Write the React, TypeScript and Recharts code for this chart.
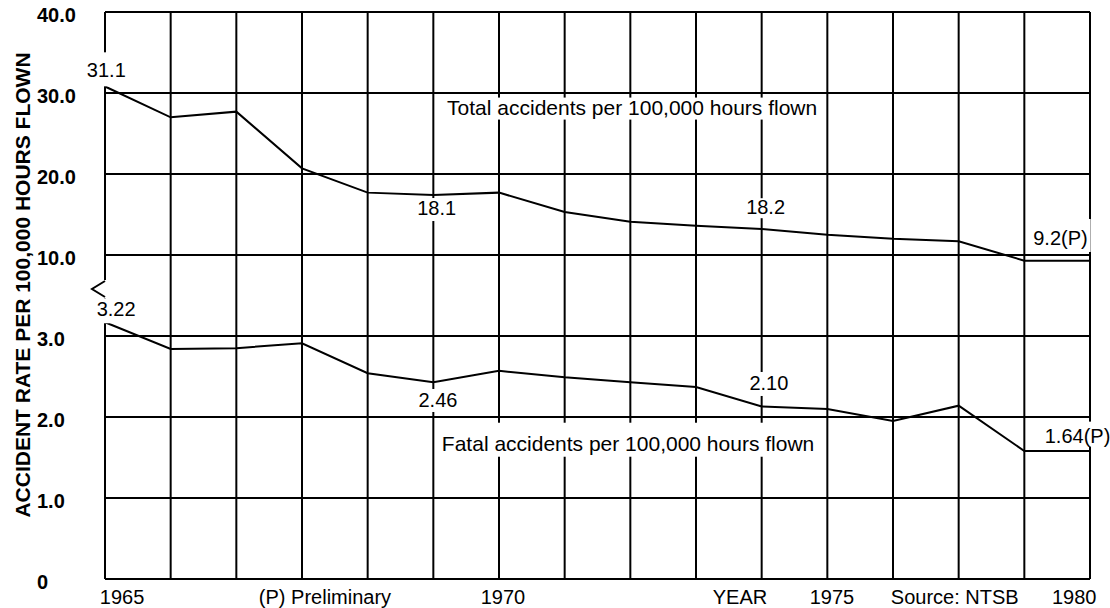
import React from 'react'
import { CartesianGrid, Line, LineChart, ReferenceDot, XAxis, YAxis } from 'recharts'

const years = [1965, 1966, 1967, 1968, 1969, 1970, 1971, 1972, 1973, 1974, 1975, 1976, 1977, 1978, 1979, 1980]
const totalRate = [30.8, 27.0, 27.7, 20.7, 17.7, 17.4, 17.7, 15.3, 14.1, 13.6, 13.2, 12.5, 12.0, 11.7, 9.3, 9.3]
const fatalRate = [3.17, 2.84, 2.85, 2.91, 2.54, 2.43, 2.57, 2.49, 2.43, 2.37, 2.13, 2.1, 1.95, 2.14, 1.58, 1.58]

// broken axis: 0-3 on the lower part, 10-40 on the upper part
const levelTicks = [0, 1, 2, 3, 4, 5, 6, 7]
const levelLabels = ['0', '1.0', '2.0', '3.0', '10.0', '20.0', '30.0', '40.0']
const bottomTicks = [1965.26, 1968.35, 1971.06, 1974.67, 1976.07, 1977.94, 1979.76]
const bottomLabels = ['1965', '(P) Preliminary', '1970', 'YEAR', '1975', 'Source: NTSB', '1980']

const upper = (v: number) => v / 10 + 3

const data = years.map((year, i) => ({
  year,
  total: upper(totalRate[i]),
  fatal: fatalRate[i],
}))

type Note = { text: string; year: number; level: number; anchor: 'middle' | 'start'; size: number; gap: [number, number] }

const notes: Note[] = [
  { text: '31.1', year: 1965.02, level: 6.28, anchor: 'middle', size: 20, gap: [18, 16] },
  { text: '18.1', year: 1970.05, level: 4.58, anchor: 'middle', size: 20, gap: [10, 13] },
  { text: '18.2', year: 1975.06, level: 4.59, anchor: 'middle', size: 20, gap: [9, 11] },
  { text: '9.2(P)', year: 1979.55, level: 4.21, anchor: 'middle', size: 20, gap: [19, 14] },
  { text: 'Total accidents per 100,000 hours flown', year: 1970.21, level: 5.82, anchor: 'start', size: 21, gap: [10, 12] },
  { text: '3.22', year: 1965.17, level: 3.33, anchor: 'middle', size: 20, gap: [11, 14] },
  { text: '2.46', year: 1970.07, level: 2.21, anchor: 'middle', size: 20, gap: [11, 12] },
  { text: '2.10', year: 1975.11, level: 2.42, anchor: 'middle', size: 20, gap: [11, 13] },
  { text: '1.64(P)', year: 1979.81, level: 1.77, anchor: 'middle', size: 20, gap: [14, 11] },
  { text: 'Fatal accidents per 100,000 hours flown', year: 1970.13, level: 1.67, anchor: 'start', size: 21, gap: [21, 13] },
]

const FONT = '"Liberation Sans", Arial, Helvetica, sans-serif'

const charW: Record<string, number> = {
  '.': 0.278, ',': 0.278, ' ': 0.278, '(': 0.333, ')': 0.333, P: 0.667, T: 0.611, F: 0.611,
  i: 0.222, l: 0.222, t: 0.278, f: 0.278, r: 0.333, s: 0.5, c: 0.5, w: 0.722, m: 0.833,
}
const textWidth = (s: string, size: number) => [...s].reduce((w, ch) => w + (charW[ch] ?? 0.556), 0) * size

const noteLabel = (n: Note) => (props: any) => {
  const vb = props.viewBox
  const cx = vb.x + vb.width / 2
  const cy = vb.y + vb.height / 2
  const w = textWidth(n.text, n.size)
  const left = n.anchor === 'start' ? cx : cx - w / 2
  return (
    <g>
      <rect x={left - 3} y={cy - n.gap[0]} width={w + 6} height={n.gap[0] + n.gap[1]} fill="#fff" />
      <text x={cx} y={cy} textAnchor={n.anchor} dominantBaseline="central" fontSize={n.size} fontFamily={FONT} fill="#000">
        {n.text}
      </text>
    </g>
  )
}

const bottomLabel = (text: string) => (props: any) => {
  const vb = props.viewBox
  return (
    <text x={vb.x + vb.width / 2} y={vb.y + vb.height / 2 + 25} textAnchor="middle" fontSize={20} fontFamily={FONT} fill="#000">
      {text}
    </text>
  )
}

const axisBreak = (p: any) => (
  <g>
    <rect x={p.cx - 3} y={p.cy - 9} width={6} height={18} fill="#fff" />
    <polyline
      points={`${p.cx},${p.cy - 8} ${p.cx - 13},${p.cy} ${p.cx},${p.cy + 8}`}
      fill="none"
      stroke="#000"
      strokeWidth={2}
    />
  </g>
)

const YTick = (props: any) => (
  <text x={37} y={props.y + 3} dominantBaseline="central" fontSize={20} fontWeight="bold" fontFamily={FONT} fill="#000">
    {levelLabels[levelTicks.indexOf(props.payload.value)]}
  </text>
)

const NoTick = () => <g />

const axisTitle = () => (
  <text
    x={22}
    y={285}
    transform="rotate(-90 22 285)"
    textAnchor="middle"
    dominantBaseline="central"
    fontSize={21}
    fontWeight="bold"
    fontFamily={FONT}
    fill="#000"
  >
    ACCIDENT RATE PER 100,000 HOURS FLOWN
  </text>
)

export default function App() {
  return (
    <div style={{ position: 'absolute', left: 0, top: 0, background: '#fff' }}>
      <LineChart width={1110} height={608} data={data} margin={{ top: 12, right: 20, bottom: 29, left: 0 }}>
        <CartesianGrid xAxisId="grid" stroke="#000" strokeWidth={2} />
        <XAxis
          xAxisId="grid"
          dataKey="year"
          type="number"
          domain={[1965, 1980]}
          ticks={years}
          interval={0}
          tick={<NoTick />}
          axisLine={false}
          tickLine={false}
          height={0}
        />
        <YAxis
          type="number"
          domain={[0, 7]}
          ticks={levelTicks}
          interval={0}
          tick={<YTick />}
          axisLine={false}
          tickLine={false}
          width={105}
          label={{ content: axisTitle }}
        />
        <Line xAxisId="grid" type="linear" dataKey="total" stroke="#000" strokeWidth={2} dot={false} activeDot={false} isAnimationActive={false} />
        <Line xAxisId="grid" type="linear" dataKey="fatal" stroke="#000" strokeWidth={2} dot={false} activeDot={false} isAnimationActive={false} />
        <ReferenceDot xAxisId="grid" x={1965} y={3.58} r={1} shape={axisBreak} ifOverflow="visible" />
        {notes.map((n) => (
          <ReferenceDot
            key={n.text}
            xAxisId="grid"
            x={n.year}
            y={n.level}
            r={1}
            fill="none"
            stroke="none"
            ifOverflow="visible"
            label={{ content: noteLabel(n) }}
          />
        ))}
        {bottomTicks.map((t, i) => (
          <ReferenceDot
            key={bottomLabels[i]}
            xAxisId="grid"
            x={t}
            y={0}
            r={1}
            fill="none"
            stroke="none"
            ifOverflow="visible"
            label={{ content: bottomLabel(bottomLabels[i]) }}
          />
        ))}
      </LineChart>
    </div>
  )
}
